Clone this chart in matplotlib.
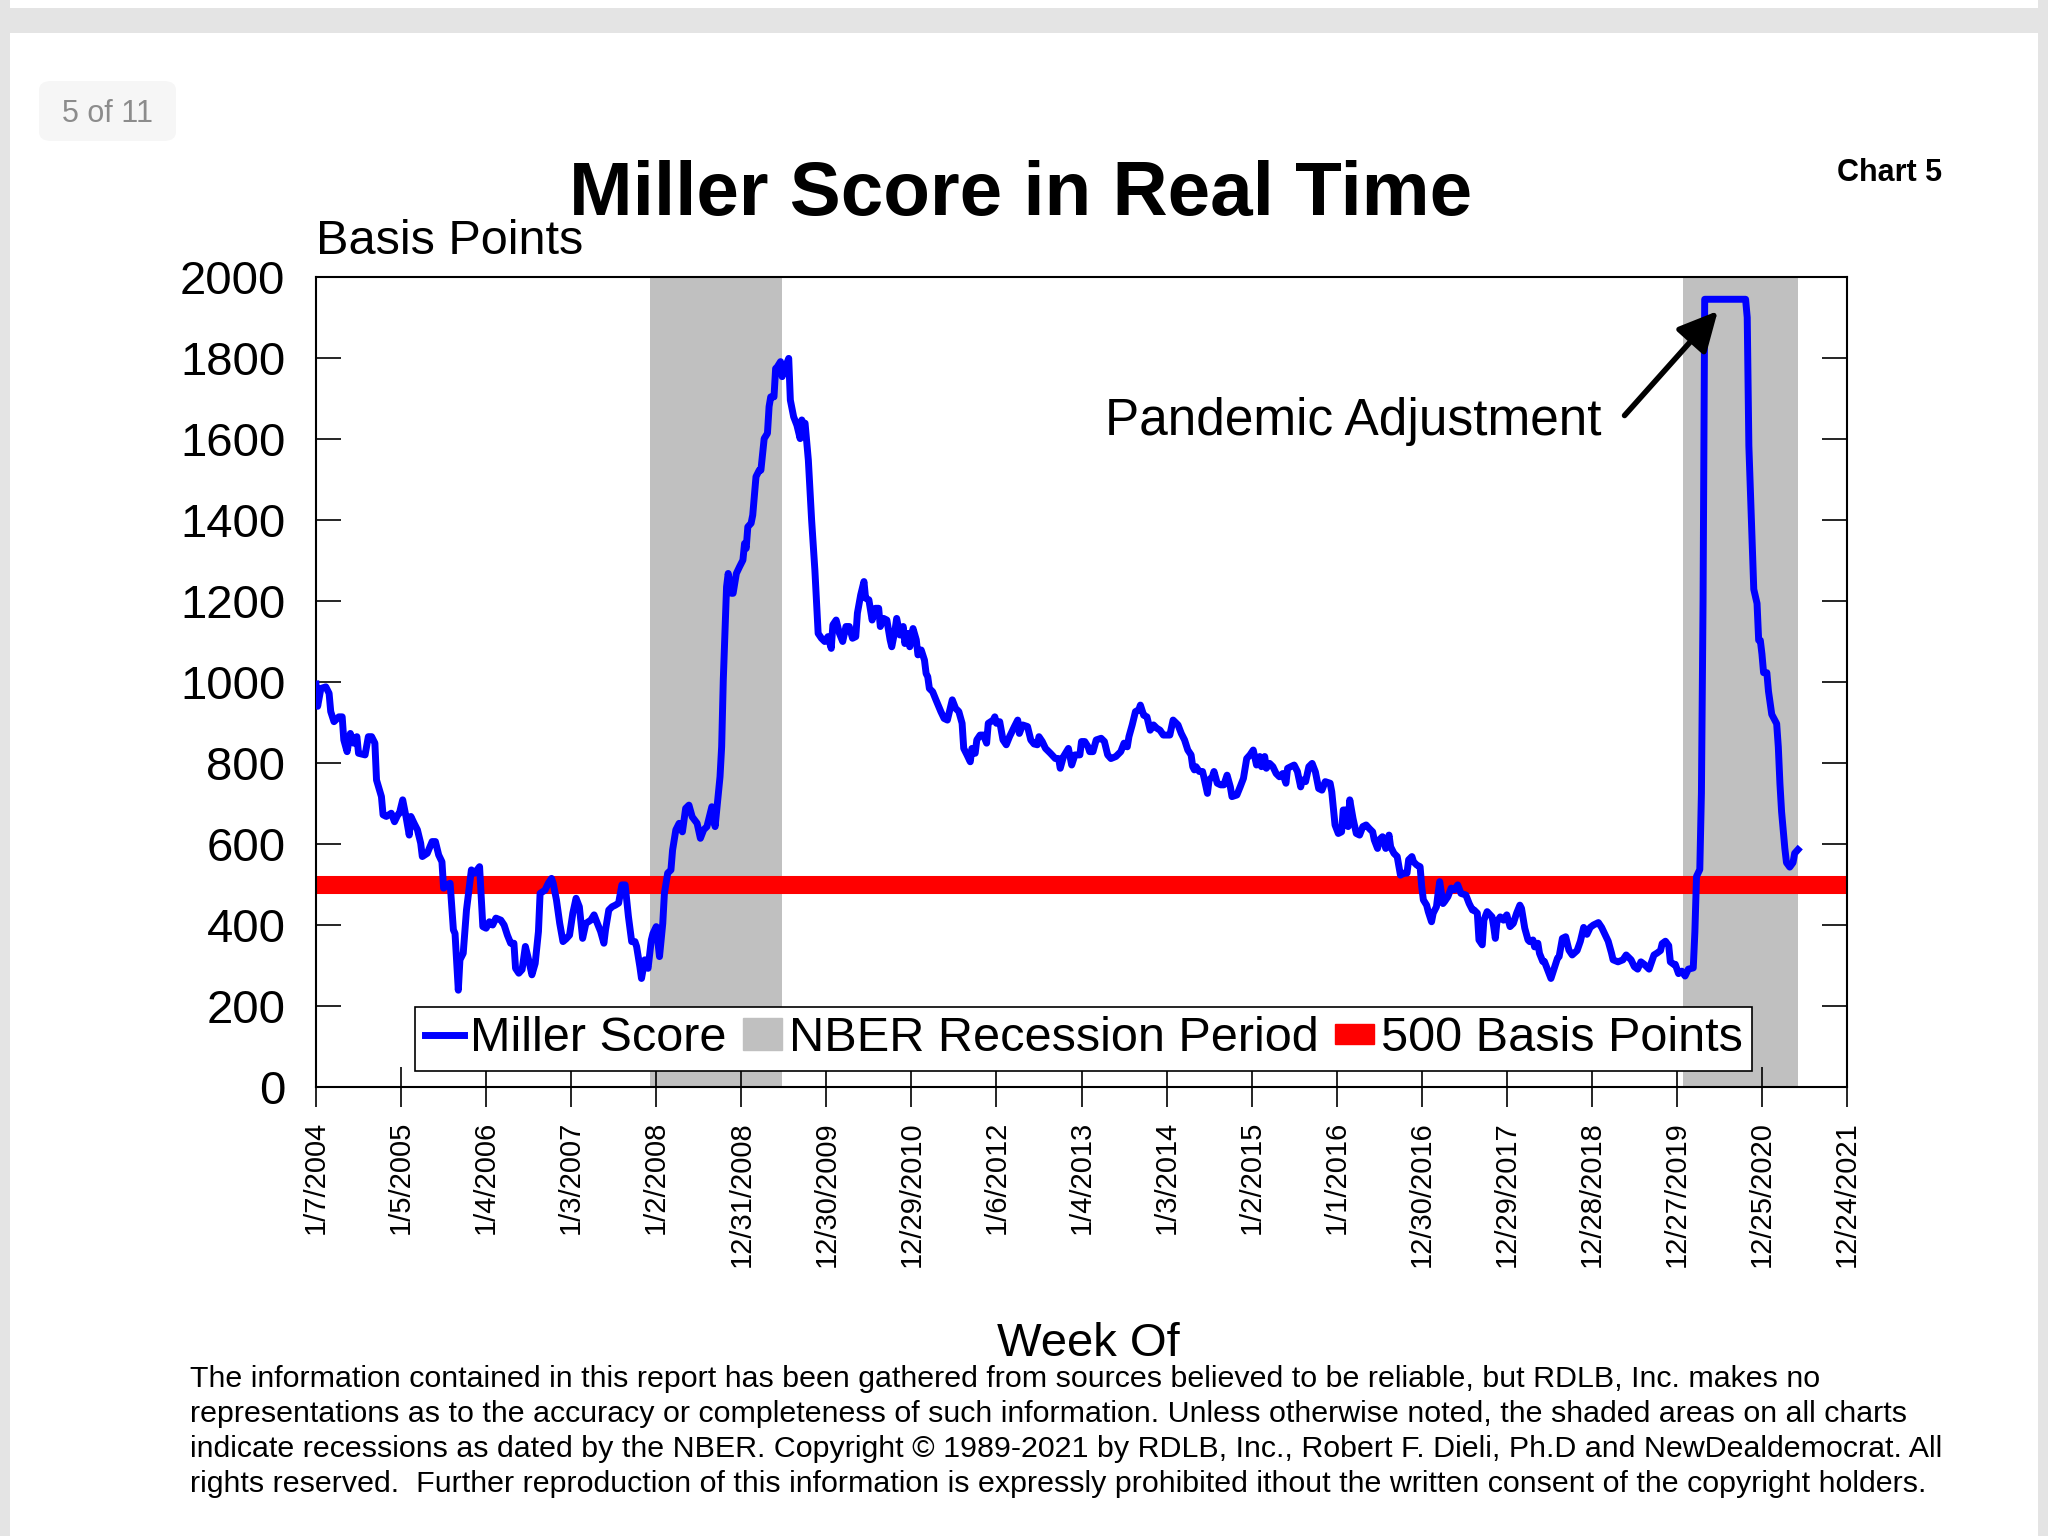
import numpy as np
import matplotlib.pyplot as plt
import matplotlib.patches as mpatches
from matplotlib.lines import Line2D
from matplotlib.legend_handler import HandlerPatch

plt.rcParams['font.family'] = ['Liberation Sans', 'DejaVu Sans']

# weekly Miller Score, (week number since 1/7/2004, basis points)
seg_2004_2007 = [(0, 995), (1, 940), (3, 984), (6, 988), (8, 972), (9, 927), (11, 902), (14, 914), (16, 914),
                 (17, 857), (19, 828), (21, 873), (23, 849), (25, 865), (26, 824), (30, 820), (32, 865), (34, 865),
                 (36, 849), (37, 758), (40, 717), (41, 672), (43, 668), (46, 676), (48, 655), (50, 672), (51, 676),
                 (53, 709), (55, 668), (57, 622), (58, 668), (60, 651), (62, 635), (64, 602), (65, 569), (68, 577),
                 (71, 606), (73, 606), (75, 573), (77, 556), (78, 491), (80, 499), (82, 503), (84, 388), (85, 379),
                 (87, 239), (88, 314), (90, 330), (92, 437), (94, 503), (95, 536), (97, 528), (100, 544), (101, 470),
                 (102, 396), (104, 392), (106, 408), (108, 400), (110, 417), (113, 412), (115, 400), (117, 375),
                 (119, 355), (121, 355), (122, 293), (124, 281), (126, 290), (128, 347), (130, 314), (132, 277),
                 (134, 305), (136, 384), (137, 478), (140, 486), (142, 503), (144, 515), (145, 503), (147, 462),
                 (149, 404), (151, 359), (153, 366), (155, 375), (157, 429), (159, 466), (161, 445), (163, 367),
                 (165, 404), (168, 412), (170, 425), (172, 404), (174, 384), (176, 355), (177, 388), (179, 437),
                 (181, 445), (183, 449), (185, 454), (187, 499), (189, 499), (191, 421), (193, 359), (195, 359),
                 (196, 347), (198, 297), (199, 268), (201, 314), (203, 293), (205, 363), (206, 379), (208, 396),
                 (210, 322), (212, 404), (213, 478), (215, 528), (217, 536)]
seg_2008_2009 = [(218, 585), (220, 635), (222, 651), (224, 630), (226, 688), (228, 696), (230, 667), (233, 651),
                 (235, 614), (237, 635), (239, 643), (242, 692), (244, 643), (245, 684), (247, 766), (248, 840),
                 (249, 1005), (251, 1235), (252, 1268), (254, 1219), (255, 1219), (257, 1268), (259, 1285),
                 (261, 1301), (262, 1342), (263, 1330), (264, 1383), (266, 1392), (267, 1412), (269, 1507),
                 (271, 1523), (272, 1523), (274, 1601), (276, 1614), (277, 1680), (278, 1704), (280, 1704),
                 (281, 1774), (282, 1778), (284, 1791), (285, 1754), (286, 1770), (287, 1778), (289, 1799),
                 (290, 1696), (292, 1655), (294, 1634), (296, 1601), (297, 1647), (298, 1635), (299, 1639),
                 (301, 1548), (302, 1474), (303, 1400), (305, 1276), (307, 1120)]
seg_2010_2012 = [(309, 1108), (311, 1100), (313, 1112), (315, 1083), (316, 1141), (318, 1153), (320, 1120),
                 (322, 1100), (324, 1137), (326, 1137), (328, 1108), (330, 1112), (331, 1170), (333, 1215),
                 (335, 1248), (336, 1207), (338, 1203), (340, 1153), (342, 1182), (344, 1182), (345, 1137),
                 (347, 1157), (349, 1153), (351, 1104), (352, 1087), (354, 1128), (355, 1157), (357, 1116),
                 (359, 1137), (360, 1095), (362, 1120), (363, 1087), (365, 1132), (367, 1104), (368, 1067),
                 (370, 1079), (372, 1054), (373, 1021), (374, 1013), (375, 984), (377, 976), (379, 956), (382, 927),
                 (384, 910), (386, 906), (387, 923), (389, 956), (391, 935), (393, 927), (395, 898), (396, 836),
                 (398, 820), (400, 803), (401, 836), (403, 824), (404, 857), (406, 869), (408, 869), (410, 849),
                 (411, 898), (414, 906), (415, 914), (416, 898), (418, 902), (420, 857), (422, 845), (424, 865),
                 (427, 890), (429, 906), (430, 873), (432, 894), (435, 890), (437, 857), (439, 847), (441, 845),
                 (442, 865), (444, 853), (446, 836), (449, 824), (452, 811), (454, 811), (455, 787), (457, 816),
                 (460, 836)]
seg_2013_2015 = [(462, 795), (464, 820), (467, 820), (468, 853), (470, 853), (472, 840), (473, 828), (475, 828),
                 (477, 857), (480, 861), (482, 853), (484, 820), (486, 811), (489, 816), (492, 828), (494, 849),
                 (496, 840), (497, 865), (499, 894), (501, 927), (503, 931), (504, 943), (506, 918), (508, 914),
                 (510, 881), (512, 894), (514, 886), (516, 881), (518, 869), (520, 869), (522, 869), (524, 906),
                 (525, 902), (527, 894), (529, 873), (531, 857), (533, 832), (535, 820), (536, 791), (537, 783),
                 (538, 791), (540, 779), (542, 779), (543, 762), (545, 725), (546, 758), (548, 766), (549, 779),
                 (551, 750), (553, 746), (555, 746), (557, 770), (559, 741), (560, 717), (563, 721), (565, 741),
                 (567, 762), (569, 811), (571, 820), (573, 832), (575, 795), (577, 816), (578, 791), (580, 816),
                 (581, 787), (583, 799), (585, 791), (587, 774), (589, 766), (591, 774), (593, 750), (594, 787),
                 (596, 791), (598, 795), (600, 779), (602, 741), (603, 758), (605, 754), (607, 791), (609, 799),
                 (611, 778), (613, 737)]
seg_2016_2018 = [(615, 733), (617, 754), (620, 750), (621, 729), (623, 647), (625, 626), (627, 630), (628, 684),
                 (630, 684), (631, 643), (632, 709), (634, 663), (636, 626), (638, 622), (640, 643), (642, 647),
                 (644, 638), (646, 630), (647, 610), (649, 589), (650, 610), (652, 618), (654, 589), (656, 622),
                 (657, 593), (659, 577), (661, 569), (663, 523), (665, 528), (667, 528), (668, 561), (670, 569),
                 (671, 556), (673, 548), (675, 544), (676, 495), (677, 462), (679, 449), (680, 433), (682, 408),
                 (683, 429), (685, 445), (686, 478), (687, 507), (689, 453), (690, 458), (692, 470), (694, 491),
                 (696, 487), (698, 499), (700, 478), (703, 474), (705, 453), (707, 437), (708, 437), (710, 429),
                 (711, 363), (713, 351), (714, 412), (716, 433), (719, 420), (720, 396), (721, 367), (722, 408),
                 (724, 420), (726, 412), (728, 425), (730, 396), (732, 404), (734, 429), (736, 449), (737, 441),
                 (739, 392), (741, 363), (742, 359), (744, 363), (745, 346), (747, 355), (748, 330), (750, 310),
                 (751, 310), (753, 289), (755, 268), (757, 293), (759, 318), (760, 322), (762, 367), (764, 371),
                 (766, 338)]
seg_2019_2021 = [(768, 326), (771, 337), (773, 360), (775, 394), (777, 377), (779, 394), (781, 400), (784, 406),
                 (786, 394), (788, 377), (790, 360), (792, 331), (793, 314), (796, 309), (799, 314), (801, 326),
                 (804, 314), (806, 297), (808, 291), (810, 309), (812, 303), (815, 291), (817, 314), (818, 326),
                 (820, 331), (822, 337), (823, 354), (825, 360), (827, 349), (828, 309), (830, 303), (831, 303),
                 (833, 280), (835, 286), (837, 274), (839, 291), (842, 294), (843, 383), (844, 520), (846, 537),
                 (847, 726), (848, 1200), (849, 1945), (858, 1945), (866, 1945), (874, 1945), (875, 1900),
                 (876, 1583), (879, 1229), (881, 1194), (882, 1103), (883, 1103), (884, 1069), (885, 1023),
                 (887, 1023), (888, 977), (890, 920), (893, 897), (894, 840), (895, 749), (896, 680), (898, 589),
                 (899, 554), (901, 543), (903, 554), (904, 577), (906, 586)]

rec_start = [204, 836]
rec_end = [285, 906]
threshold = 500

tick_labels = ['1/7/2004', '1/5/2005', '1/4/2006', '1/3/2007', '1/2/2008', '12/31/2008', '12/30/2009',
               '12/29/2010', '1/6/2012', '1/4/2013', '1/3/2014', '1/2/2015', '1/1/2016', '12/30/2016',
               '12/29/2017', '12/28/2018', '12/27/2019', '12/25/2020', '12/24/2021']

footer = ['The information contained in this report has been gathered from sources believed to be reliable, but RDLB, Inc. makes no',
          'representations as to the accuracy or completeness of such information. Unless otherwise noted, the shaded areas on all charts',
          'indicate recessions as dated by the NBER. Copyright \u00a9 1989-2021 by RDLB, Inc., Robert F. Dieli, Ph.D and NewDealdemocrat. All',
          'rights reserved.  Further reproduction of this information is expressly prohibited ithout the written consent of the copyright holders.']

W, H = 2048, 1536


def fx(px):
    return px / W


def fy(py):
    return 1 - py / H


def small_box(legend, orig_handle, xdescent, ydescent, width, height, fontsize):
    return mpatches.Rectangle((-xdescent, -ydescent + height * 0.2), width, height * 0.6)


def plot_chart():
    weeks, score = zip(*(seg_2004_2007 + seg_2008_2009 + seg_2010_2012 +
                         seg_2013_2015 + seg_2016_2018 + seg_2019_2021))

    fig = plt.figure(figsize=(W / 100, H / 100), dpi=100)
    fig.patch.set_facecolor('#e4e4e4')
    # page card look
    fig.add_artist(mpatches.Rectangle((fx(10), 0), fx(2028), fy(33), transform=fig.transFigure,
                                      facecolor='white', edgecolor='none', zorder=-5))
    fig.add_artist(mpatches.Rectangle((fx(10), fy(8)), fx(2028), 8 / H, transform=fig.transFigure,
                                      facecolor='white', edgecolor='none', zorder=-5))
    fig.add_artist(mpatches.FancyBboxPatch((fx(39), fy(141)), fx(137), 60 / H, transform=fig.transFigure,
                                           boxstyle='round,pad=0,rounding_size=0.006',
                                           facecolor='#f6f6f6', edgecolor='none', zorder=-4))
    fig.text(fx(108), fy(122), '5 of 11', fontsize=22, color='#8c8c8c', ha='center', va='baseline')

    fig.text(fx(1021), fy(215), 'Miller Score in Real Time', fontsize=55, fontweight='bold',
             ha='center', va='baseline')
    fig.text(fx(1942), fy(181), 'Chart 5', fontsize=22, fontweight='bold', ha='right', va='baseline')

    ax = fig.add_axes([fx(316), fy(1087), fx(1531), 810 / H])

    for s, e in zip(rec_start, rec_end):
        ax.axvspan(s, e, color='#c0c0c0', lw=0, zorder=1)
    ax.axhline(threshold, color='#ff0000', lw=13, zorder=2)
    ax.plot(weeks, score, color='#0000ff', lw=5, zorder=3, solid_joinstyle='round')

    ax.set_xlim(0, 936)
    ax.set_ylim(0, 2000)
    ax.set_yticks(np.arange(0, 2001, 200))
    ax.set_xticks(np.arange(len(tick_labels)) * 52)
    ax.set_xticklabels(tick_labels, rotation=90, fontsize=21)
    ax.tick_params(axis='y', direction='in', length=18, width=1.2, labelsize=34, pad=22, right=True)
    ax.tick_params(axis='x', direction='inout', length=29, width=1.2, pad=10)
    for sp in ax.spines.values():
        sp.set_linewidth(1.5)

    ax.text(0, 1.029, 'Basis Points', transform=ax.transAxes, fontsize=35, ha='left', va='baseline')
    ax.text(786, 1610, 'Pandemic Adjustment', fontsize=37, ha='right', va='baseline')
    ax.annotate('', xy=(857, 1916), xytext=(800, 1658),
                arrowprops=dict(arrowstyle='-|>,head_length=0.8,head_width=0.4', lw=4, color='black',
                                mutation_scale=30, shrinkA=0, shrinkB=0))

    fig.text(fx(1088), fy(1356), 'Week Of', fontsize=34, ha='center', va='baseline')

    handles = [Line2D([], [], color='#0000ff', lw=5),
               mpatches.Patch(color='#c0c0c0'),
               mpatches.Patch(color='#ff0000')]
    leg = ax.legend(handles, ['Miller Score', 'NBER Recession Period', '500 Basis Points'],
                    ncol=3, loc='lower left', bbox_to_anchor=(fx(415), fy(1071)),
                    bbox_transform=fig.transFigure, borderaxespad=0, fontsize=35,
                    handlelength=0.8, handleheight=0.65, handletextpad=0.13, columnspacing=0.35,
                    borderpad=0.2, fancybox=False, framealpha=1, edgecolor='black',
                    handler_map={handles[2]: HandlerPatch(patch_func=small_box)})
    leg.get_frame().set_linewidth(1.2)
    leg.set_zorder(5)

    for i, line in enumerate(footer):
        fig.text(fx(190), fy(1387 + 35 * i), line, fontsize=21.9, ha='left', va='baseline')

    fig.savefig('out.png', dpi=100)


if __name__ == '__main__':
    plot_chart()
